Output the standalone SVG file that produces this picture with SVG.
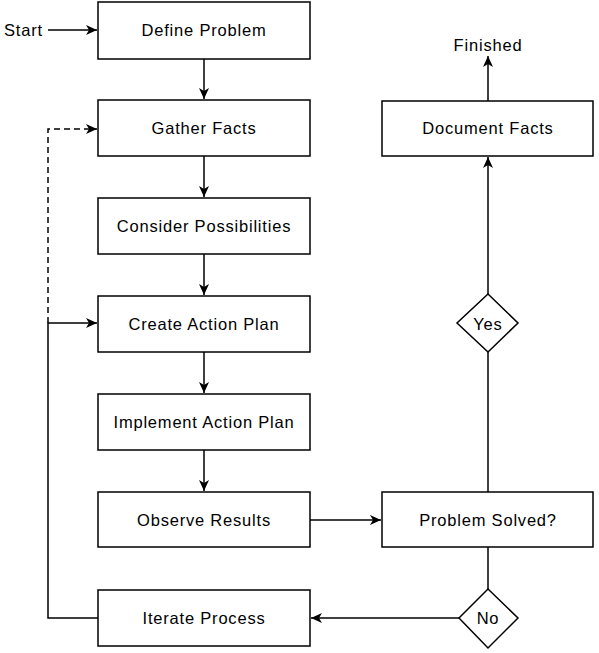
<svg xmlns="http://www.w3.org/2000/svg" width="599" height="653" viewBox="0 0 599 653">
<style>
.box{fill:#fff;stroke:#000;stroke-width:1.5}
.t{font-family:"Liberation Sans",Arial,sans-serif;font-size:16.5px;letter-spacing:0.8px;fill:#000;text-anchor:middle;dominant-baseline:central}
.c{fill:none;stroke:#000;stroke-width:1.5}
.d{stroke-dasharray:6,4}
</style>
<defs>
<marker id="a" markerWidth="12" markerHeight="10" refX="11" refY="5" orient="auto" markerUnits="userSpaceOnUse">
<path d="M0,0 L11,5 L0,10 L3,5 Z" fill="#000"/>
</marker>
</defs>
<rect width="599" height="653" fill="#fff"/>
<g id="connectors">
<path class="c" d="M48,30 H97" marker-end="url(#a)"/>
<path class="c" d="M204,59 V99" marker-end="url(#a)"/>
<path class="c" d="M204,156 V197" marker-end="url(#a)"/>
<path class="c" d="M204,254 V295" marker-end="url(#a)"/>
<path class="c" d="M204,352 V393" marker-end="url(#a)"/>
<path class="c" d="M204,450 V491" marker-end="url(#a)"/>
<path class="c" d="M310,520 H381" marker-end="url(#a)"/>
<path class="c" d="M488,492 V352"/>
<path class="c" d="M488,294 V157" marker-end="url(#a)"/>
<path class="c" d="M488,101 V56" marker-end="url(#a)"/>
<path class="c" d="M488,547 V589"/>
<path class="c" d="M459,618 H311" marker-end="url(#a)"/>
<path class="c" d="M98,618 H48 V323 H97" marker-end="url(#a)"/>
<path class="c d" d="M48,323 V129 H97" marker-end="url(#a)"/>
</g>
<g id="start"><text class="t" x="4" y="30" style="text-anchor:start">Start</text></g>
<g id="finished"><text class="t" x="488" y="45">Finished</text></g>
<g id="define"><rect class="box" x="98" y="2" width="212" height="57"/><text class="t" x="204" y="30">Define Problem</text></g>
<g id="gather"><rect class="box" x="98" y="100" width="212" height="56"/><text class="t" x="204" y="128">Gather Facts</text></g>
<g id="consider"><rect class="box" x="98" y="198" width="212" height="56"/><text class="t" x="204" y="226">Consider Possibilities</text></g>
<g id="create"><rect class="box" x="98" y="296" width="212" height="56"/><text class="t" x="204" y="324">Create Action Plan</text></g>
<g id="implement"><rect class="box" x="98" y="394" width="212" height="56"/><text class="t" x="204" y="422">Implement Action Plan</text></g>
<g id="observe"><rect class="box" x="98" y="492" width="212" height="55"/><text class="t" x="204" y="520">Observe Results</text></g>
<g id="iterate"><rect class="box" x="98" y="590" width="212" height="56"/><text class="t" x="204" y="618">Iterate Process</text></g>
<g id="solved"><rect class="box" x="382" y="492" width="211" height="55"/><text class="t" x="488" y="520">Problem Solved?</text></g>
<g id="document"><rect class="box" x="382" y="101" width="211" height="55"/><text class="t" x="488" y="128">Document Facts</text></g>
<g id="yes"><path class="box" d="M488,294 L518,323 L488,352 L457,323 Z"/><text class="t" x="488" y="324">Yes</text></g>
<g id="no"><path class="box" d="M488,589 L518,618 L488,648 L459,618 Z"/><text class="t" x="488" y="618">No</text></g>
</svg>
